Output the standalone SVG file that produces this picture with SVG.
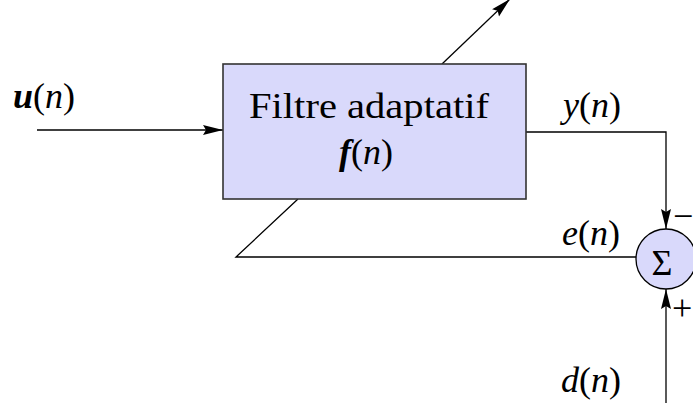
<svg xmlns="http://www.w3.org/2000/svg" width="693" height="403" viewBox="0 0 693 403">
<style>
.t{font-family:"Liberation Serif","Times New Roman",serif;font-size:36px;fill:#000}
.i{font-style:italic}
.b{font-weight:bold;font-style:italic}
.ln{fill:none;stroke:#000;stroke-width:1.3}
</style>
<defs>
<marker id="ah" markerUnits="userSpaceOnUse" markerWidth="20" markerHeight="11" refX="20" refY="5" orient="auto" viewBox="0 0 20 10">
<path d="M0,0 L20,5 L0,10 L3,5 z" fill="#000"/>
</marker>
</defs>
<rect width="693" height="403" fill="#fff"/>
<g id="connectors">
<line class="ln" x1="37" y1="130" x2="223" y2="130" marker-end="url(#ah)"/>
<line class="ln" x1="442" y1="64" x2="510" y2="-1" marker-end="url(#ah)"/>
<polyline class="ln" points="526,132 666,132 666,229" marker-end="url(#ah)"/>
<polyline class="ln" points="298,199 236,257 636,257"/>
<line class="ln" x1="666" y1="403" x2="666" y2="289" marker-end="url(#ah)"/>
</g>
<g id="filter">
<rect x="223" y="64" width="303" height="135" fill="#d9d9fb" stroke="#333" stroke-width="1.6"/>
<text class="t" x="369" y="118" text-anchor="middle" textLength="240" lengthAdjust="spacingAndGlyphs">Filtre adaptatif</text>
<text class="t" x="366" y="164" text-anchor="middle"><tspan class="b">f</tspan>(<tspan class="i">n</tspan>)</text>
</g>
<g id="sum">
<circle cx="666" cy="259" r="30" fill="#d9d9fb" stroke="#000" stroke-width="1.3"/>
<text class="t" x="662" y="275" text-anchor="middle" font-size="48">Σ</text>
<text class="t" x="673" y="228" font-size="24">−</text>
<text class="t" x="672" y="320" font-size="24">+</text>
</g>
<g id="labels">
<text class="t" x="13" y="108"><tspan class="b">u</tspan>(<tspan class="i">n</tspan>)</text>
<text class="t" x="563" y="117"><tspan class="i">y</tspan>(<tspan class="i">n</tspan>)</text>
<text class="t" x="562" y="245"><tspan class="i">e</tspan>(<tspan class="i">n</tspan>)</text>
<text class="t" x="561" y="392"><tspan class="i">d</tspan>(<tspan class="i">n</tspan>)</text>
</g>
</svg>
